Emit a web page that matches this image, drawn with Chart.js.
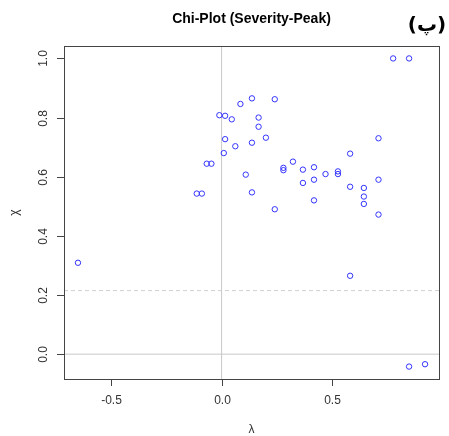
<!DOCTYPE html>
<html>
<head>
<meta charset="utf-8">
<script src="https://cdn.jsdelivr.net/npm/chart.js@4/dist/chart.umd.min.js"></script>
<style>
  html, body { margin: 0; padding: 0; background: #fff; }
  #wrap { width: 449px; height: 436px; }
</style>
</head>
<body>
<div id="wrap"><canvas id="chiPlot" width="449" height="436"></canvas></div>
<script>
// chi-plot values: lambda (x) and chi (y) for each pair
const lambdaVals = [0.774, 0.846, 0.085, 0.137, 0.240, -0.010, 0.016, 0.046, 0.167, 0.167,
                    0.016, 0.200, 0.062, 0.137, 0.708, 0.010, 0.580, -0.067, -0.046, 0.322,
                    0.279, 0.279, 0.367, 0.417, 0.109, 0.469, 0.525, 0.525, 0.367, 0.417,
                    0.708, 0.580, 0.642, 0.642, 0.642, 0.137, 0.417, -0.112, -0.089, 0.240,
                    0.708, 0.580, 0.846, 0.918, -0.648];
const chiVals    = [1.000, 1.000, 0.846, 0.865, 0.862, 0.808, 0.806, 0.794, 0.800, 0.769,
                    0.727, 0.732, 0.703, 0.715, 0.730, 0.680, 0.678, 0.644, 0.644, 0.651,
                    0.630, 0.622, 0.624, 0.632, 0.607, 0.609, 0.618, 0.609, 0.579, 0.590,
                    0.590, 0.566, 0.562, 0.533, 0.508, 0.547, 0.520, 0.543, 0.543, 0.490,
                    0.472, 0.265, -0.042, -0.034, 0.309];
const controlLimit = 0.215;
const xTicks = [-0.5, 0.0, 0.5];
const yTicks = [0.0, 0.2, 0.4, 0.6, 0.8, 1.0];
const xRange = [-0.711, 0.981];
const yRange = [-0.084, 1.042];

const FONT = '"Liberation Sans", Arial, sans-serif';

// R-style frame, ticks, labels and titles
const rStyle = {
    id: 'rStyle',
    afterDraw(chart) {
        const ctx = chart.ctx;
        const a = chart.chartArea;
        const xs = chart.scales.x, ys = chart.scales.y;
        ctx.save();
        ctx.strokeStyle = '#444';
        ctx.lineWidth = 1;
        ctx.strokeRect(Math.round(a.left) + 0.5, Math.round(a.top) + 0.5,
                       Math.round(a.right - a.left), Math.round(a.bottom - a.top));

        ctx.fillStyle = '#333';
        ctx.font = '12px ' + FONT;
        ctx.textAlign = 'center';
        ctx.textBaseline = 'middle';
        xTicks.forEach(v => {
            const px = Math.round(xs.getPixelForValue(v)) + 0.5;
            ctx.beginPath();
            ctx.moveTo(px, a.bottom);
            ctx.lineTo(px, a.bottom + 7);
            ctx.stroke();
            ctx.fillText(v.toFixed(1), px, a.bottom + 22);
        });
        yTicks.forEach(v => {
            const py = Math.round(ys.getPixelForValue(v)) + 0.5;
            ctx.beginPath();
            ctx.moveTo(a.left, py);
            ctx.lineTo(a.left - 7, py);
            ctx.stroke();
            ctx.save();
            ctx.translate(a.left - 20, py);
            ctx.rotate(-Math.PI / 2);
            ctx.fillText(v.toFixed(1), 0, 0);
            ctx.restore();
        });

        // axis titles
        ctx.font = '12px ' + FONT;
        ctx.fillText('λ', (a.left + a.right) / 2, 430);
        ctx.save();
        ctx.translate(15, (a.top + a.bottom) / 2);
        ctx.rotate(-Math.PI / 2);
        ctx.fillText('χ', 0, 0);
        ctx.restore();

        // main title
        ctx.fillStyle = '#000';
        ctx.font = 'bold 14px ' + FONT;
        ctx.fillText('Chi-Plot (Severity-Peak)', (a.left + a.right) / 2, 19);
        ctx.font = 'bold 20px "DejaVu Sans", ' + FONT;
        ctx.fillText('(پ)', 427, 26);
        ctx.restore();
    }
};

const refLine = (pts, color, dash) => ({
    type: 'line',
    data: pts,
    borderColor: color,
    borderWidth: 1,
    borderDash: dash,
    pointRadius: 0,
    fill: false,
    order: 2
});

const ctx = document.getElementById('chiPlot').getContext('2d');
new Chart(ctx, {
    type: 'scatter',
    data: {
        datasets: [
            {
                data: lambdaVals.map((x, i) => ({ x: x, y: chiVals[i] })),
                pointStyle: 'circle',
                pointRadius: 2.7,
                pointBorderWidth: 1,
                pointBorderColor: '#3333ff',
                pointBackgroundColor: 'rgba(0,0,0,0)',
                order: 1
            },
            refLine([{ x: xRange[0], y: 0 }, { x: xRange[1], y: 0 }], '#c8c8c8', []),
            refLine([{ x: 0, y: yRange[0] }, { x: 0, y: yRange[1] }], '#c8c8c8', []),
            refLine([{ x: xRange[0], y: controlLimit }, { x: xRange[1], y: controlLimit }], '#d0d0d0', [4, 3])
        ]
    },
    options: {
        responsive: false,
        animation: false,
        layout: { padding: { left: 0, top: 46, right: 10, bottom: 0 } },
        plugins: { legend: { display: false }, tooltip: { enabled: false } },
        scales: {
            x: {
                type: 'linear', min: xRange[0], max: xRange[1],
                grid: { display: false }, border: { display: false },
                ticks: { display: false },
                afterFit: s => { s.height = 57; }
            },
            y: {
                type: 'linear', min: yRange[0], max: yRange[1],
                grid: { display: false }, border: { display: false },
                ticks: { display: false },
                afterFit: s => { s.width = 64; }
            }
        }
    },
    plugins: [rStyle]
});
</script>
</body>
</html>
